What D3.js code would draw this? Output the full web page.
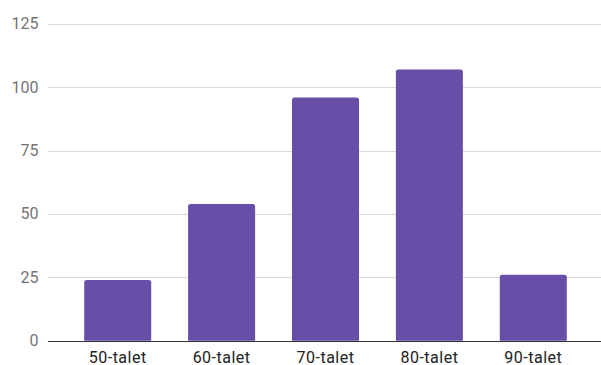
<!DOCTYPE html>
<html>
<head>
<meta charset="utf-8">
<script src="https://cdnjs.cloudflare.com/ajax/libs/d3/7.8.5/d3.min.js"></script>
<style>
  html, body { margin: 0; padding: 0; background: #fff; }
  svg { display: block; font-family: Roboto, "Noto Sans", Arial, sans-serif; }
</style>
</head>
<body>
<svg id="chart" width="601" height="365"></svg>
<script>
// Number of items per decade
const categories = ["50-talet", "60-talet", "70-talet", "80-talet", "90-talet"];
const values = [24, 54, 96, 107, 26];
const yTicks = [0, 25, 50, 75, 100, 125];

const svg = d3.select("#chart");
const gridLeft = 48, gridRight = 601;
const barColor = "#674ea7";

const x = d3.scaleBand()
  .domain(categories)
  .range([65.5, 585.5])
  .paddingInner(0.355)
  .paddingOuter(0.18);

const y = d3.scaleLinear()
  .domain([0, 125])
  .range([340.7, 24]);

// Horizontal gridlines
svg.append("g")
  .selectAll("line")
  .data(yTicks.filter(d => d !== 0))
  .join("line")
  .attr("x1", gridLeft)
  .attr("x2", gridRight)
  .attr("y1", d => Math.round(y(d)) + 0.5)
  .attr("y2", d => Math.round(y(d)) + 0.5)
  .attr("stroke", "#d9d9d9")
  .attr("stroke-width", 1);

// Y tick labels
svg.append("g")
  .selectAll("text")
  .data(yTicks)
  .join("text")
  .attr("x", 38.5)
  .attr("y", d => y(d))
  .attr("dy", "0.34em")
  .attr("text-anchor", "end")
  .attr("font-size", 16)
  .attr("fill", "#757575")
  .text(d => d);

// Bars with slightly rounded top corners
const r = 2.5;
svg.append("g")
  .selectAll("path")
  .data(categories.map((c, i) => ({ c, v: values[i] })))
  .join("path")
  .attr("fill", barColor)
  .attr("d", d => {
    const x0 = x(d.c), x1 = x0 + x.bandwidth();
    const yt = y(d.v), yb = y(0);
    return `M${x0},${yb}V${yt + r}Q${x0},${yt} ${x0 + r},${yt}H${x1 - r}Q${x1},${yt} ${x1},${yt + r}V${yb}Z`;
  });

// Baseline
svg.append("line")
  .attr("x1", gridLeft)
  .attr("x2", gridRight)
  .attr("y1", Math.round(y(0)) + 0.5)
  .attr("y2", Math.round(y(0)) + 0.5)
  .attr("stroke", "#333")
  .attr("stroke-width", 1);

// Category labels
svg.append("g")
  .selectAll("text")
  .data(categories)
  .join("text")
  .attr("x", d => x(d) + x.bandwidth() / 2)
  .attr("y", 362.5)
  .attr("text-anchor", "middle")
  .attr("font-size", 16)
  .attr("letter-spacing", 0.5)
  .attr("fill", "#222")
  .text(d => d);
</script>
</body>
</html>
